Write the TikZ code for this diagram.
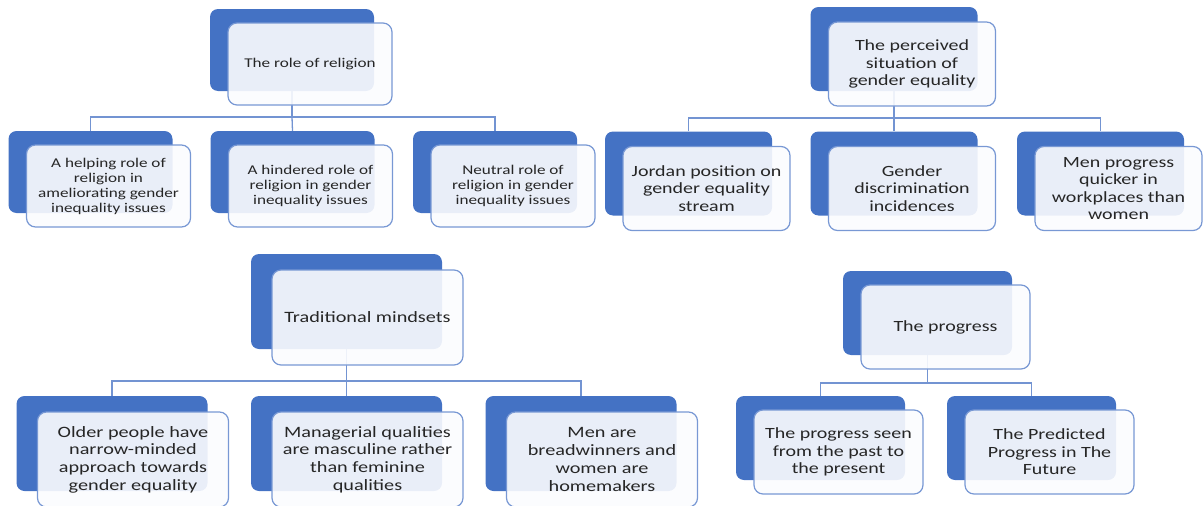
\documentclass[tikz,border=0pt]{standalone}
\usepackage{fontspec}
\setmainfont{Carlito}[FakeStretch=1.28]
\usetikzlibrary{backgrounds}
\definecolor{boxblue}{RGB}{68,114,196}
\definecolor{rimblue}{RGB}{120,152,212}
\definecolor{fillwhite}{RGB}{251,252,254}
\tikzset{
  back/.style={rectangle,rounded corners=8pt,fill=boxblue,draw=none,inner sep=0pt},
  front/.style={rectangle,rounded corners=9pt,fill=fillwhite,fill opacity=0.9,text opacity=1,draw=rimblue,line width=1.2pt,inner sep=0pt,align=center,text=black!85},
  link/.style={draw=rimblue!90!boxblue,line width=1.3pt},
  boxA/.style={minimum width=164pt,minimum height=82pt},
  boxB/.style={minimum width=167pt,minimum height=84pt},
  boxC/.style={minimum width=191pt,minimum height=95pt},
  boxD/.style={minimum width=169pt,minimum height=84pt},
  txtA/.style={font=\fontsize{13.4}{15}\selectfont},
  txtB/.style={font=\fontsize{15.6}{17.5}\selectfont},
  txtC/.style={font=\fontsize{15.8}{17.7}\selectfont}
}
\begin{document}
\begin{tikzpicture}[x=1pt,y=-1pt]
\useasboundingbox (0,0) rectangle (1203,506);

\node[back,boxA] (r1b) at (292,50) {};
\node[back,boxA] (c11b) at (90.5,172) {};
\node[back,boxA] (c12b) at (292.5,172) {};
\node[back,boxA] (c13b) at (495,172) {};
\node[front,boxA,txtA] (r1) at (310,64) {The role of religion};
\node[front,boxA,txtA] (c11) at (108.5,186) {A helping role of\\religion in\\ameliorating gender\\inequality issues};
\node[front,boxA,txtA] (c12) at (310.5,186) {A hindered role of\\religion in gender\\inequality issues};
\node[front,boxA,txtA] (c13) at (513,186) {Neutral role of\\religion in gender\\inequality issues};
\coordinate (j1) at (292,117);

\node[back,boxB] (r2b) at (894,49) {};
\node[back,boxB] (c21b) at (688.5,173.5) {};
\node[back,boxB] (c22b) at (894,173.5) {};
\node[back,boxB] (c23b) at (1100.5,173.5) {};
\node[front,boxB,txtB] (r2) at (912,64) {The perceived\\situation of\\gender equality};
\node[front,boxB,txtB] (c21) at (706.5,188.5) {Jordan position on\\gender equality\\stream};
\node[front,boxB,txtB] (c22) at (912,188.5) {Gender\\discrimination\\incidences};
\node[front,boxB,txtB] (c23) at (1118.5,188.5) {Men progress\\quicker in\\workplaces than\\women};
\coordinate (j2) at (894,118);

\node[back,boxC] (r3b) at (346.5,301.5) {};
\node[back,boxC] (c31b) at (112,443.5) {};
\node[back,boxC] (c32b) at (346.5,443.5) {};
\node[back,boxC] (c33b) at (581,443.5) {};
\node[front,boxC,txtC] (r3) at (367.5,317.5) {Traditional mindsets};
\node[front,boxC,txtC] (c31) at (133,459.5) {Older people have\\narrow-minded\\approach towards\\gender equality};
\node[front,boxC,txtC] (c32) at (367.5,459.5) {Managerial qualities\\are masculine rather\\than feminine\\qualities};
\node[front,boxC,txtC] (c33) at (602,459.5) {Men are\\breadwinners and\\women are\\homemakers};
\coordinate (j3) at (346.5,381);

\node[back,boxD] (r4b) at (927.5,313) {};
\node[back,boxD] (c41b) at (820.5,438) {};
\node[back,boxD] (c42b) at (1031.5,438) {};
\node[front,boxD,txtB] (r4) at (945.5,327) {The progress};
\node[front,boxD,txtB] (c41) at (838.5,452) {The progress seen\\from the past to\\the present};
\node[front,boxD,txtB] (c42) at (1049.5,452) {The Predicted\\Progress in The\\Future};
\coordinate (j4) at (927.5,383);

\begin{pgfonlayer}{background}
\draw[link] (r1b.south) -- (j1) -| (c11b.north);
\draw[link] (j1) -- (c12b.north);
\draw[link] (j1) -| (c13b.north);
\draw[link] (r2b.south) -- (j2) -| (c21b.north);
\draw[link] (j2) -- (c22b.north);
\draw[link] (j2) -| (c23b.north);
\draw[link] (r3b.south) -- (j3) -| (c31b.north);
\draw[link] (j3) -- (c32b.north);
\draw[link] (j3) -| (c33b.north);
\draw[link] (r4b.south) -- (j4) -| (c41b.north);
\draw[link] (j4) -| (c42b.north);
\end{pgfonlayer}
\end{tikzpicture}
\end{document}
